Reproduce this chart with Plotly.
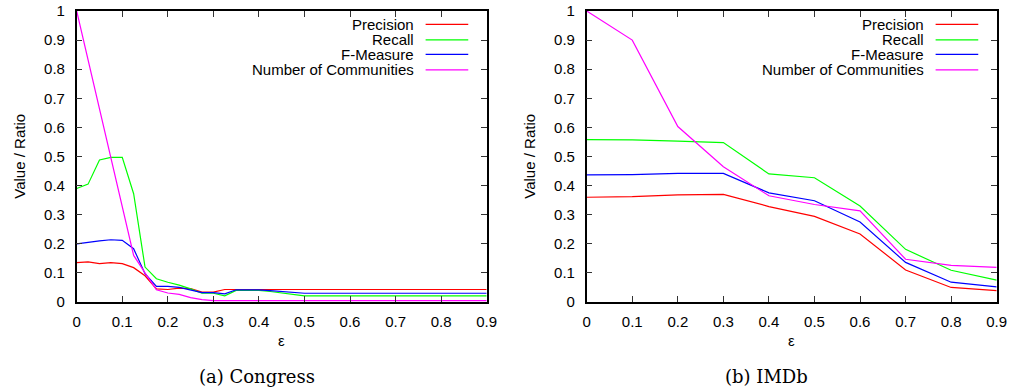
import plotly.graph_objects as go

# ---- Congress (epsilon sampled every 0.025) ----
eps_congress = [0.0, 0.025, 0.05, 0.075, 0.1, 0.125, 0.15, 0.175, 0.2, 0.225,
                0.25, 0.275, 0.3, 0.325, 0.35, 0.375, 0.4, 0.425, 0.45, 0.475,
                0.5, 0.525, 0.55, 0.575, 0.6, 0.625, 0.65, 0.675, 0.7, 0.725,
                0.75, 0.775, 0.8, 0.825, 0.85, 0.875, 0.9]
congress_precision = [0.135, 0.138, 0.132, 0.135, 0.132, 0.118, 0.09, 0.045, 0.043, 0.048,
                      0.046, 0.034, 0.034, 0.043, 0.043, 0.043, 0.043, 0.043, 0.043, 0.043,
                      0.043, 0.043, 0.043, 0.043, 0.043, 0.043, 0.043, 0.043, 0.043, 0.043,
                      0.043, 0.043, 0.043, 0.043, 0.043, 0.043, 0.043]
congress_recall = [0.39, 0.405, 0.488, 0.497, 0.497, 0.372, 0.12, 0.08, 0.068, 0.058,
                   0.045, 0.03, 0.03, 0.021, 0.04, 0.04, 0.04, 0.036, 0.031, 0.026,
                   0.021, 0.021, 0.021, 0.021, 0.021, 0.021, 0.021, 0.021, 0.021, 0.021,
                   0.021, 0.021, 0.021, 0.021, 0.021, 0.021, 0.021]
congress_fmeasure = [0.2, 0.206, 0.21, 0.214, 0.212, 0.183, 0.097, 0.054, 0.054, 0.05,
                     0.042, 0.032, 0.032, 0.028, 0.042, 0.042, 0.042, 0.039, 0.036, 0.033,
                     0.03, 0.03, 0.03, 0.03, 0.03, 0.03, 0.03, 0.03, 0.03, 0.03,
                     0.03, 0.03, 0.03, 0.03, 0.03, 0.03, 0.03]
congress_communities = [1.0, 0.83, 0.665, 0.5, 0.33, 0.16, 0.1, 0.042, 0.031, 0.026,
                        0.015, 0.008, 0.005, 0.005, 0.005, 0.005, 0.005, 0.005, 0.005, 0.005,
                        0.005, 0.005, 0.005, 0.005, 0.005, 0.005, 0.005, 0.005, 0.005, 0.005,
                        0.005, 0.005, 0.005, 0.005, 0.005, 0.005, 0.005]

# ---- IMDb (epsilon sampled every 0.1) ----
eps_imdb = [0.0, 0.1, 0.2, 0.3, 0.4, 0.5, 0.6, 0.7, 0.8, 0.9]
imdb_precision = [0.36, 0.362, 0.368, 0.37, 0.328, 0.294, 0.234, 0.11, 0.05, 0.039]
imdb_recall = [0.558, 0.557, 0.553, 0.548, 0.44, 0.427, 0.33, 0.181, 0.109, 0.075]
imdb_fmeasure = [0.437, 0.438, 0.442, 0.442, 0.375, 0.348, 0.275, 0.136, 0.068, 0.052]
imdb_communities = [1.0, 0.9, 0.603, 0.465, 0.365, 0.335, 0.313, 0.147, 0.126, 0.119]

series_names = ["Precision", "Recall", "F-Measure", "Number of Communities"]
series_colors = ["#ff0000", "#00ff00", "#0000ff", "#ff00ff"]
y_ticks = [0, 0.1, 0.2, 0.3, 0.4, 0.5, 0.6, 0.7, 0.8, 0.9, 1]
x_ticks = [0, 0.1, 0.2, 0.3, 0.4, 0.5, 0.6, 0.7, 0.8, 0.9]
captions = ["(a) Congress", "(b) IMDb"]

W, H = 1011, 389
SANS = "Liberation Sans, Arial, sans-serif"
SERIF = "DejaVu Serif, serif"
FS = 15

fig = go.Figure()

panels = [
    ("x", "y", eps_congress, [congress_precision, congress_recall, congress_fmeasure, congress_communities]),
    ("x2", "y2", eps_imdb, [imdb_precision, imdb_recall, imdb_fmeasure, imdb_communities]),
]
for xa, ya, xs, ys_list in panels:
    for name, color, ys in zip(series_names, series_colors, ys_list):
        fig.add_trace(go.Scatter(x=xs, y=ys, mode="lines", name=name, xaxis=xa, yaxis=ya,
                                 line=dict(color=color, width=1.2), showlegend=False))

# panel placement in pixels
x_dom = [(76.7, 486.7), (586.7, 996.7)]
y_dom = (11, 302)
ydom_paper = [(H - y_dom[1]) / H, (H - y_dom[0]) / H]

axis_common = dict(showline=True, linecolor="black", linewidth=1.5, mirror="ticks",
                   ticks="inside", ticklen=6, tickwidth=1.2, tickcolor="#333",
                   showgrid=False, zeroline=False, automargin=False,
                   tickfont=dict(family=SANS, size=FS, color="black"))

for i, (x0, x1) in enumerate(x_dom):
    sfx = "" if i == 0 else str(i + 1)
    fig.layout["xaxis" + sfx] = dict(axis_common, domain=[x0 / W, x1 / W], range=[0, 0.9],
                                     tickvals=x_ticks, ticktext=[f"{v:g}" for v in x_ticks],
                                     anchor="y" + sfx, ticklabelstandoff=5)
    fig.layout["yaxis" + sfx] = dict(axis_common, domain=ydom_paper, range=[0, 1],
                                     tickvals=y_ticks, ticktext=[f"{v:g}" for v in y_ticks],
                                     anchor="x" + sfx, ticklabelstandoff=7)

annotations = []
shapes = []
legend_rows = [0.954, 0.901, 0.851, 0.798]
for i, (x0, x1) in enumerate(x_dom):
    sfx = "" if i == 0 else str(i + 1)
    # legend: right-aligned label followed by line sample
    for name, color, yr in zip(series_names, series_colors, legend_rows):
        annotations.append(dict(text=name, xref=f"x{sfx} domain", yref=f"y{sfx} domain",
                                x=0.828, y=yr, xanchor="right", yanchor="middle",
                                showarrow=False, font=dict(family=SANS, size=FS, color="black")))
        shapes.append(dict(type="line", xref=f"x{sfx} domain", yref=f"y{sfx} domain",
                           x0=0.851, x1=0.955, y0=yr, y1=yr,
                           line=dict(color=color, width=1.2)))
    # axis titles
    annotations.append(dict(text="Value / Ratio", xref="paper", yref="paper",
                            x=(x0 - 58) / W, y=(H - 156) / H, textangle=-90,
                            xanchor="center", yanchor="middle", showarrow=False,
                            font=dict(family=SANS, size=FS, color="black")))
    annotations.append(dict(text="ε", xref="paper", yref="paper",
                            x=(x0 + x1) / 2 / W, y=(H - 340) / H,
                            xanchor="center", yanchor="middle", showarrow=False,
                            font=dict(family=SANS, size=FS, color="black")))
    # sub-figure caption
    annotations.append(dict(text=captions[i], xref="paper", yref="paper",
                            x=((x0 + x1) / 2 - 25) / W, y=(H - 376) / H,
                            xanchor="center", yanchor="middle", showarrow=False,
                            font=dict(family=SERIF, size=18, color="black")))

fig.update_layout(width=W, height=H, margin=dict(l=0, r=0, t=0, b=0),
                  paper_bgcolor="white", plot_bgcolor="white",
                  annotations=annotations, shapes=shapes, showlegend=False)

fig.write_html("out.html")
